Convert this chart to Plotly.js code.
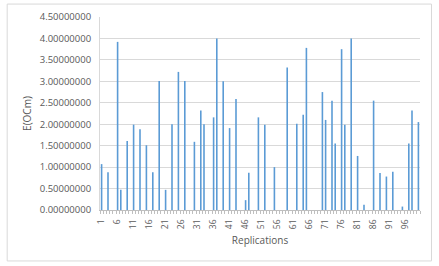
<!DOCTYPE html>
<html>
<head>
<meta charset="utf-8">
<script src="https://cdn.plot.ly/plotly-3.0.1.min.js"></script>
<style>
html,body{margin:0;padding:0;background:#fff;}
#chart{width:439px;height:266px;}
</style>
</head>
<body>
<div id="chart"></div>
<script>
// Replication numbers with non-zero values and their E(OCm) values
const barReplications = [1,3,6,7,9,11,13,15,17,19,21,23,25,27,30,32,33,36,37,39,41,43,46,47,50,52,55,59,62,64,65,70,71,73,74,76,77,79,81,83,86,88,90,92,95,97,98,100];
const barValues = [1.07,0.88,3.92,0.47,1.61,1.99,1.88,1.51,0.88,3.01,0.47,2.00,3.22,3.01,1.59,2.32,2.00,2.16,4.00,3.00,1.91,2.59,0.23,0.87,2.16,1.99,1.00,3.32,2.01,2.22,3.78,2.75,2.10,2.55,1.55,3.75,1.99,4.00,1.26,0.12,2.55,0.86,0.78,0.89,0.08,1.55,2.32,2.05];
const replicationCount = 100;
const xTickValues = [1,6,11,16,21,26,31,36,41,46,51,56,61,66,71,76,81,86,91,96];
const xTickLabels = xTickValues.map(String);
const yTickValues = [0,0.5,1,1.5,2,2.5,3,3.5,4,4.5];

// full series 1..100 (missing replications are zero)
const replications = [];
const values = [];
for (let i = 1; i <= replicationCount; i++) {
  replications.push(i);
  const k = barReplications.indexOf(i);
  values.push(k >= 0 ? barValues[k] : 0);
}

const textColor = '#595959';
const fontFam = 'Open Sans, sans-serif';

const trace = {
  type: 'bar',
  x: replications,
  y: values,
  marker: {color: '#5B9BD5', line: {width: 0}},
  hoverinfo: 'x+y'
};

const layout = {
  width: 439, height: 266,
  margin: {l: 100, r: 18.5, t: 17, b: 56, pad: 0},
  paper_bgcolor: '#fff', plot_bgcolor: '#fff',
  bargap: 0.5,
  showlegend: false,
  font: {family: fontFam, color: textColor, size: 9},
  xaxis: {
    type: 'linear',
    range: [0.5, 100.5],
    tickmode: 'array',
    tickvals: xTickValues,
    ticktext: xTickLabels,
    tickangle: -90,
    ticks: '',
    tickfont: {size: 8.5, color: textColor, family: fontFam},
    showgrid: false,
    zeroline: false,
    showline: true,
    linecolor: '#bfbfbf',
    linewidth: 1,
    minor: {ticks: 'outside', tickmode: 'linear', tick0: 0.5, dtick: 1, ticklen: 3, tickcolor: '#bfbfbf', tickwidth: 1, showgrid: false},
    ticklabelstandoff: 5,
    automargin: false,
    title: {text: 'Replications', font: {size: 10, color: textColor, family: fontFam}, standoff: 8}
  },
  yaxis: {
    range: [0, 4.5],
    tickmode: 'array',
    tickvals: yTickValues,
    tickformat: '.8f',
    ticks: 'outside',
    ticklen: 6,
    tickcolor: 'rgba(0,0,0,0)',
    tickfont: {size: 9.5, color: textColor, family: fontFam},
    showgrid: true,
    gridcolor: '#d9d9d9',
    gridwidth: 1,
    zeroline: false,
    showline: true,
    linecolor: '#d9d9d9',
    automargin: false,
    title: {text: 'E(OCm)', font: {size: 10, color: textColor, family: fontFam}, standoff: 6}
  },
  shapes: [{
    type: 'rect', xref: 'paper', yref: 'paper',
    x0: -0.290, x1: 1.036, y0: -0.264, y1: 1.067,
    line: {color: '#d9d9d9', width: 1}, fillcolor: 'rgba(0,0,0,0)'
  }]
};

Plotly.newPlot('chart', [trace], layout, {displayModeBar: false, staticPlot: true});
</script>
</body>
</html>
